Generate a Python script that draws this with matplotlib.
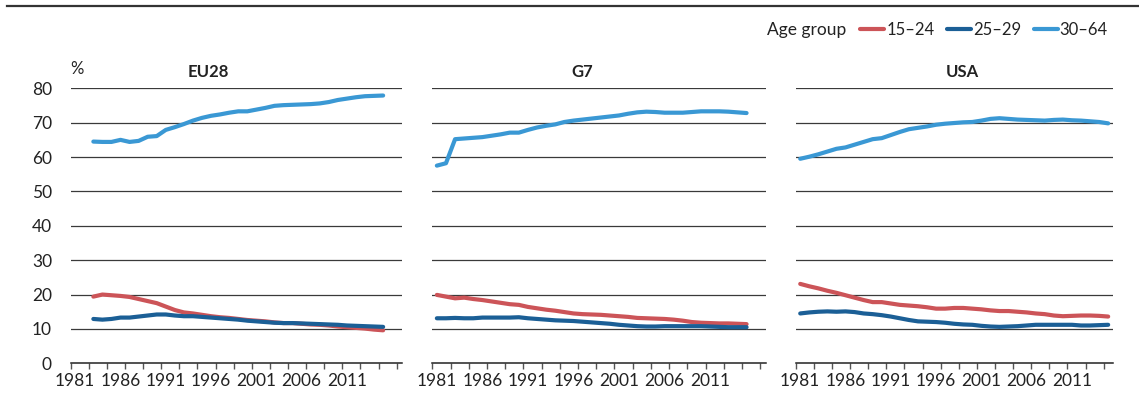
import numpy as np
from matplotlib import pyplot as plt

# 就业率（%），按年龄组
eu_years = np.arange(1983, 2016)
eu_15_24 = [19.4, 20.0, 19.8, 19.6, 19.3, 18.7, 18.1, 17.5, 16.5, 15.5, 14.8, 14.5, 14.1,
            13.7, 13.4, 13.2, 12.9, 12.6, 12.4, 12.2, 11.9, 11.7, 11.7, 11.5, 11.3, 11.2,
            11.0, 10.7, 10.5, 10.3, 10.1, 9.8, 9.6]
eu_25_29 = [12.9, 12.7, 12.9, 13.3, 13.3, 13.6, 13.9, 14.2, 14.2, 13.9, 13.7, 13.7, 13.5,
            13.3, 13.1, 12.9, 12.7, 12.4, 12.2, 12.0, 11.8, 11.7, 11.7, 11.6, 11.5, 11.4,
            11.3, 11.2, 11.0, 10.9, 10.8, 10.7, 10.6]
eu_30_64 = [64.5, 64.4, 64.4, 65.0, 64.4, 64.7, 65.9, 66.1, 67.9, 68.7, 69.6, 70.6, 71.4,
            72.0, 72.4, 72.9, 73.3, 73.3, 73.8, 74.3, 74.9, 75.1, 75.2, 75.3, 75.4, 75.6,
            76.0, 76.6, 77.0, 77.4, 77.7, 77.8, 77.9]

g7_years = np.arange(1981, 2016)
g7_15_24 = [19.9, 19.4, 18.9, 19.1, 18.7, 18.4, 18.0, 17.6, 17.2, 17.0, 16.4, 16.0, 15.6,
            15.3, 14.9, 14.5, 14.3, 14.2, 14.1, 13.9, 13.7, 13.5, 13.2, 13.1, 13.0, 12.9,
            12.7, 12.4, 12.0, 11.8, 11.7, 11.6, 11.6, 11.5, 11.4]
g7_25_29 = [13.1, 13.1, 13.2, 13.1, 13.1, 13.3, 13.3, 13.3, 13.3, 13.4, 13.1, 12.9, 12.7,
            12.5, 12.4, 12.3, 12.1, 11.9, 11.7, 11.5, 11.2, 11.0, 10.8, 10.7, 10.7, 10.8,
            10.8, 10.8, 10.8, 10.8, 10.7, 10.6, 10.5, 10.5, 10.5]
g7_30_64 = [57.5, 58.2, 65.2, 65.4, 65.6, 65.8, 66.2, 66.6, 67.1, 67.1, 67.9, 68.6, 69.1,
            69.5, 70.2, 70.6, 70.9, 71.2, 71.5, 71.8, 72.1, 72.6, 73.0, 73.2, 73.1, 72.9,
            72.9, 72.9, 73.1, 73.3, 73.3, 73.3, 73.2, 73.0, 72.8]

usa_years = np.arange(1981, 2016)
usa_15_24 = [23.1, 22.4, 21.8, 21.1, 20.5, 19.8, 19.1, 18.4, 17.8, 17.8, 17.4, 17.0, 16.8,
             16.6, 16.3, 15.9, 15.9, 16.1, 16.1, 15.9, 15.7, 15.4, 15.2, 15.2, 15.0, 14.8,
             14.5, 14.3, 13.9, 13.7, 13.8, 13.9, 13.9, 13.8, 13.6]
usa_25_29 = [14.5, 14.8, 15.0, 15.1, 15.0, 15.1, 14.9, 14.5, 14.3, 14.0, 13.6, 13.1, 12.6,
             12.2, 12.1, 12.0, 11.8, 11.5, 11.3, 11.2, 10.9, 10.7, 10.6, 10.7, 10.8, 11.0,
             11.2, 11.2, 11.2, 11.2, 11.2, 11.0, 11.0, 11.1, 11.2]
usa_30_64 = [59.5, 60.1, 60.8, 61.6, 62.4, 62.8, 63.6, 64.4, 65.2, 65.5, 66.4, 67.3, 68.1,
             68.5, 68.9, 69.4, 69.7, 69.9, 70.1, 70.2, 70.6, 71.1, 71.3, 71.1, 70.9, 70.8,
             70.7, 70.6, 70.8, 70.9, 70.7, 70.6, 70.4, 70.2, 69.8]

groups = ["15–24", "25–29", "30–64"]
colors = ["#cc5458", "#1b5f96", "#3a98d4"]
panels = [
    ("EU28", eu_years, [eu_15_24, eu_25_29, eu_30_64]),
    ("G7", g7_years, [g7_15_24, g7_25_29, g7_30_64]),
    ("USA", usa_years, [usa_15_24, usa_25_29, usa_30_64]),
]

plt.rcParams['font.family'] = ['Lato', 'DejaVu Sans']
W, H = 1139, 399
fig = plt.figure(figsize=(W / 100, H / 100), dpi=100)

# 每个面板的像素范围 (左, 右) 和 x 轴右端
boxes = [(70.7, 401.7, 2017.05), (432.3, 765.7, 2017.1), (795.7, 1112.7, 2015.5)]
title_x = [208, 582, 962]
y0, y1 = 363.3, 88.3

for i, (name, years, series) in enumerate(panels):
    l, r, xmax = boxes[i]
    ax = fig.add_axes([l / W, 1 - y0 / H, (r - l) / W, (y0 - y1) / H])
    for vals, c, g in zip(series, colors, groups):
        ax.plot(years, vals, color=c, lw=3.0, solid_capstyle='round', label=g, zorder=3)
    ax.set_xlim(1980.5, xmax)
    ax.set_ylim(0, 80)
    ax.set_yticks(np.arange(0, 81, 10))
    for v in range(10, 81, 10):
        ax.axhline(v, color='#3a3a3a', lw=0.9, zorder=1)
    for s in ['top', 'right', 'left']:
        ax.spines[s].set_visible(False)
    ax.spines['bottom'].set_color('#222222')
    ax.spines['bottom'].set_linewidth(1.1)
    ax.tick_params(axis='y', length=0, pad=13.5, labelsize=12.5, labelcolor='#222222')
    if i > 0:
        ax.tick_params(axis='y', labelleft=False)
    ax.set_xticks(np.arange(1981, 2012, 5))
    ax.set_xticks(np.arange(1980.5, xmax, 2), minor=True)
    ax.tick_params(axis='x', which='major', length=0, pad=7, labelsize=12.5, labelcolor='#222222')
    ax.tick_params(axis='x', which='minor', length=4, width=1.0, color='#555555', direction='out')
    fig.text(title_x[i] / W, 1 - 72 / H, name, ha='center', va='center',
             fontsize=12, fontweight='bold', color='#222222')

fig.text(70 / W, 1 - 69 / H, "%", ha='left', va='center', fontsize=12, color='#222222')

# 顶部分隔线
fig.add_artist(plt.Line2D([7 / W, 1], [1 - 6 / H, 1 - 6 / H], color='#333333', lw=1.6))

# 图例
fig.text(767 / W, 1 - 30 / H, "Age group", ha='left', va='center', fontsize=12.5, color='#222222')
handles = fig.axes[0].get_lines()
fig.legend(handles, groups, loc='center left', bbox_to_anchor=(860 / W, 1 - 30 / H),
           ncol=3, frameon=False, fontsize=12, handlelength=1.45, handletextpad=0.12,
           columnspacing=0.75, borderaxespad=0, borderpad=0, labelcolor='#222222')

fig.savefig("out.png", dpi=100)
